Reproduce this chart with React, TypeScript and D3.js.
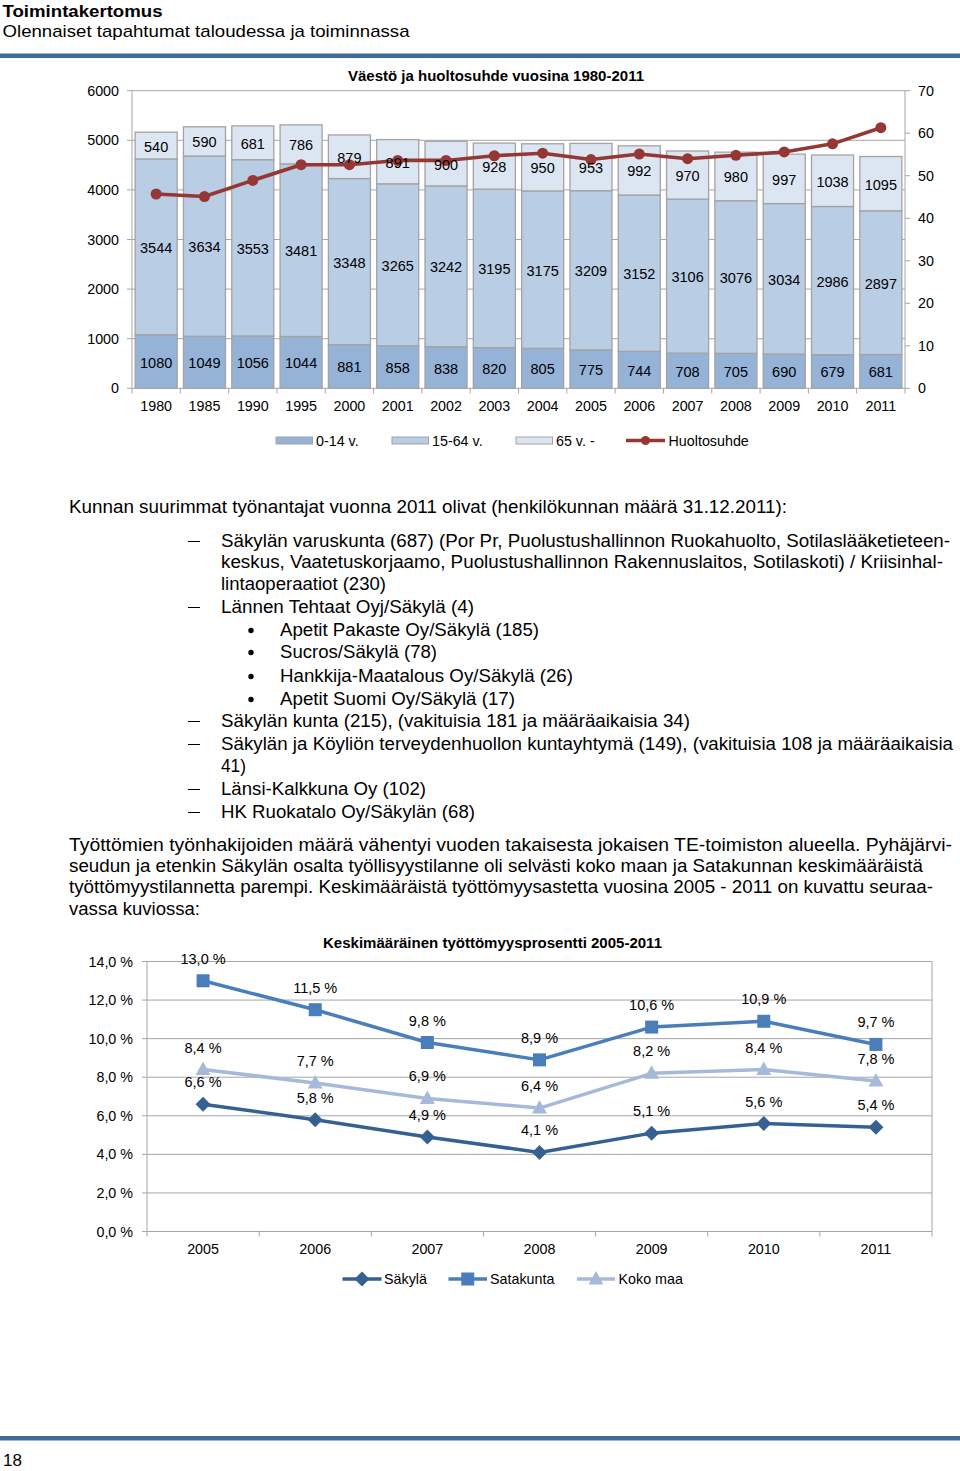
import React from 'react';
import * as d3 from 'd3';

const years = ['1980','1985','1990','1995','2000','2001','2002','2003','2004','2005','2006','2007','2008','2009','2010','2011'];
const age0_14 = [1080,1049,1056,1044,881,858,838,820,805,775,744,708,705,690,679,681];
const age15_64 = [3544,3634,3553,3481,3348,3265,3242,3195,3175,3209,3152,3106,3076,3034,2986,2897];
const age65 = [540,590,681,786,879,891,900,928,950,953,992,970,980,997,1038,1095];
const huoltosuhde = [45.7,45.1,48.9,52.6,52.6,53.6,53.6,54.7,55.3,53.8,55.1,54.0,54.8,55.6,57.5,61.3];
const leftTicks = [0,1000,2000,3000,4000,5000,6000];
const rightTicks = [0,10,20,30,40,50,60,70];

const years2 = ['2005','2006','2007','2008','2009','2010','2011'];
const sakyla = [6.6,5.8,4.9,4.1,5.1,5.6,5.4];
const satakunta = [13.0,11.5,9.8,8.9,10.6,10.9,9.7];
const kokoMaa = [8.4,7.7,6.9,6.4,8.2,8.4,7.8];
const pctTicks = [0,2,4,6,8,10,12,14];

const FONT = '"Liberation Sans", Arial, sans-serif';
const BLUE_RULE = '#41699b';

const segColors = ['#95b3d7', '#b9cde5', '#dce6f2'];
const segNames = ['0-14 v.', '15-64 v.', '65 v. -'];

const fmt = (v: number) => v.toFixed(1).replace('.', ',') + ' %';

// text lines: [text, x, baselineY, width]
const bodyLines: [string, number, number, number][] = [
  ['Kunnan suurimmat työnantajat vuonna 2011 olivat (henkilökunnan määrä 31.12.2011):', 69, 513, 718],
  ['Säkylän varuskunta (687) (Por Pr, Puolustushallinnon Ruokahuolto, Sotilaslääketieteen-', 221, 547, 729],
  ['keskus, Vaatetuskorjaamo, Puolustushallinnon Rakennuslaitos, Sotilaskoti) / Kriisinhal-', 221, 568, 722],
  ['lintaoperaatiot (230)', 221, 590, 165],
  ['Lännen Tehtaat Oyj/Säkylä (4)', 221, 613, 253],
  ['Apetit Pakaste Oy/Säkylä (185)', 280, 636, 259],
  ['Sucros/Säkylä (78)', 280, 658, 157],
  ['Hankkija-Maatalous Oy/Säkylä (26)', 280, 682, 293],
  ['Apetit Suomi Oy/Säkylä (17)', 280, 705, 235],
  ['Säkylän kunta (215), (vakituisia 181 ja määräaikaisia 34)', 221, 727, 469],
  ['Säkylän ja Köyliön terveydenhuollon kuntayhtymä (149), (vakituisia 108 ja määräaikaisia', 221, 750, 732],
  ['41)', 221, 772, 25],
  ['Länsi-Kalkkuna Oy (102)', 221, 795, 205],
  ['HK Ruokatalo Oy/Säkylän (68)', 221, 818, 254],
  ['Työttömien työnhakijoiden määrä vähentyi vuoden takaisesta jokaisen TE-toimiston alueella. Pyhäjärvi-', 69, 851, 883],
  ['seudun ja etenkin Säkylän osalta työllisyystilanne oli selvästi koko maan ja Satakunnan keskimääräistä', 69, 872, 854],
  ['työttömyystilannetta parempi. Keskimääräistä työttömyysastetta vuosina 2005 - 2011 on kuvattu seuraa-', 69, 893, 864],
  ['vassa kuviossa:', 69, 915, 131],
];
const dashLines = [547, 613, 727, 750, 795, 818];
const bulletLines = [636, 658, 682, 705];

function BarChart() {
  const x = d3.scaleBand<string>().domain(years).range([132, 905]).paddingInner(0.13).paddingOuter(0.065);
  const yL = d3.scaleLinear().domain([0, 6000]).range([388.3, 90.7]);
  const yR = d3.scaleLinear().domain([0, 70]).range([388.3, 90.7]);
  const rows = years.map((y, i) => ({ year: y, a: age0_14[i], b: age15_64[i], c: age65[i] }));
  const stack = d3.stack<any>().keys(['a', 'b', 'c'])(rows);
  const line = d3.line<number>().x((_, i) => x(years[i])! + x.bandwidth() / 2).y(d => yR(d));
  const step = x.step();
  return (
    <g>
      <text x={496} y={81} textAnchor="middle" fontWeight="bold" fontSize={14} textLength={296} lengthAdjust="spacingAndGlyphs">Väestö ja huoltosuhde vuosina 1980-2011</text>
      {leftTicks.map(t => (
        <g key={t}>
          <line x1={132} x2={905} y1={yL(t)} y2={yL(t)} stroke="#a6a6a6" strokeWidth={1} />
          <line x1={127} x2={132} y1={yL(t)} y2={yL(t)} stroke="#a6a6a6" />
          <text x={119} y={yL(t) + 5} textAnchor="end" fontSize={14.3}>{t}</text>
        </g>
      ))}
      {rightTicks.map(t => (
        <g key={t}>
          <line x1={905} x2={910} y1={yR(t)} y2={yR(t)} stroke="#a6a6a6" />
          <text x={918} y={yR(t) + 5} fontSize={14.3}>{t}</text>
        </g>
      ))}
      <line x1={132} x2={132} y1={90.7} y2={388.3} stroke="#a6a6a6" />
      <line x1={905} x2={905} y1={90.7} y2={388.3} stroke="#a6a6a6" />
      {years.map((yr, i) => (
        <line key={yr} x1={132 + step * i} x2={132 + step * i} y1={388.3} y2={393.5} stroke="#a6a6a6" />
      ))}
      <line x1={905} x2={905} y1={388.3} y2={393.5} stroke="#a6a6a6" />
      {stack.map((s, si) => (
        <g key={si}>
          {s.map((d, i) => (
            <rect key={i} x={x(years[i])} y={yL(d[1])} width={x.bandwidth()} height={yL(d[0]) - yL(d[1])}
              fill={segColors[si]} stroke="#a3a3a3" strokeWidth={1.3} />
          ))}
        </g>
      ))}
      <path d={line(huoltosuhde) || ''} fill="none" stroke="#953735" strokeWidth={3.6} strokeLinejoin="round" />
      {huoltosuhde.map((v, i) => (
        <circle key={i} cx={x(years[i])! + x.bandwidth() / 2} cy={yR(v)} r={5.5} fill="#953735" />
      ))}
      {stack.map((s, si) => (
        <g key={'l' + si}>
          {s.map((d, i) => (
            <text key={i} x={x(years[i])! + x.bandwidth() / 2} y={(yL(d[0]) + yL(d[1])) / 2 + 6}
              textAnchor="middle" fontSize={14.5}>{d[1] - d[0]}</text>
          ))}
        </g>
      ))}
      {years.map(yr => (
        <text key={yr} x={x(yr)! + x.bandwidth() / 2} y={410.5} textAnchor="middle" fontSize={14.3}>{yr}</text>
      ))}
      {/* legend */}
      {[276, 392, 516].map((lx, i) => (
        <g key={i}>
          <rect x={lx} y={437} width={36.5} height={7} fill={segColors[i]} stroke="#a3a3a3" strokeWidth={1} />
          <text x={lx + 40} y={445.5} fontSize={14.3}>{segNames[i]}</text>
        </g>
      ))}
      <line x1={626} x2={665} y1={440.5} y2={440.5} stroke="#953735" strokeWidth={3.5} />
      <circle cx={645.5} cy={440.5} r={4.5} fill="#953735" />
      <text x={668.5} y={445.5} fontSize={14.3}>Huoltosuhde</text>
    </g>
  );
}

function marker(kind: string, cx: number, cy: number, color: string, key: any) {
  if (kind === 'square') return <rect key={key} x={cx - 6.5} y={cy - 6.5} width={13} height={13} fill={color} />;
  if (kind === 'diamond') return <path key={key} d={`M${cx},${cy - 7.5}L${cx + 7.5},${cy}L${cx},${cy + 7.5}L${cx - 7.5},${cy}Z`} fill={color} />;
  return <path key={key} d={`M${cx},${cy - 8}L${cx + 7.5},${cy + 5.5}L${cx - 7.5},${cy + 5.5}Z`} fill={color} />;
}

function LineChart() {
  const x = d3.scalePoint<string>().domain(years2).range([147, 932]).padding(0.5);
  const y = d3.scaleLinear().domain([0, 14]).range([1231.5, 961.5]);
  const step = x.step();
  const series = [
    { name: 'Säkylä', data: sakyla, color: '#376092', kind: 'diamond' },
    { name: 'Satakunta', data: satakunta, color: '#4a7ebb', kind: 'square' },
    { name: 'Koko maa', data: kokoMaa, color: '#a7b9d8', kind: 'triangle' },
  ];
  const line = d3.line<number>().x((_, i) => x(years2[i])!).y(d => y(d));
  const legend = [
    { x1: 342.5, x2: 381.5, tx: 384 },
    { x1: 448.5, x2: 487, tx: 490 },
    { x1: 577, x2: 615, tx: 618.5 },
  ];
  return (
    <g>
      <text x={492.5} y={948} textAnchor="middle" fontWeight="bold" fontSize={14} textLength={339} lengthAdjust="spacingAndGlyphs">Keskimääräinen työttömyysprosentti 2005-2011</text>
      {pctTicks.map(t => (
        <g key={t}>
          <line x1={147} x2={932} y1={y(t)} y2={y(t)} stroke="#a6a6a6" />
          <line x1={142} x2={147} y1={y(t)} y2={y(t)} stroke="#a6a6a6" />
          <text x={133} y={y(t) + 5} textAnchor="end" fontSize={14.3}>{fmt(t)}</text>
        </g>
      ))}
      <line x1={147} x2={147} y1={961.5} y2={1231.5} stroke="#a6a6a6" />
      <line x1={932} x2={932} y1={961.5} y2={1231.5} stroke="#a6a6a6" />
      {years2.map((yr, i) => (
        <line key={yr} x1={147 + step * i} x2={147 + step * i} y1={1231.5} y2={1236.5} stroke="#a6a6a6" />
      ))}
      <line x1={932} x2={932} y1={1231.5} y2={1236.5} stroke="#a6a6a6" />
      {series.map(s => (
        <g key={s.name}>
          <path d={line(s.data) || ''} fill="none" stroke={s.color} strokeWidth={3.5} strokeLinejoin="round" />
          {s.data.map((v, i) => marker(s.kind, x(years2[i])!, y(v), s.color, i))}
        </g>
      ))}
      {series.map(s => (
        <g key={'l' + s.name}>
          {s.data.map((v, i) => (
            <text key={i} x={x(years2[i])!} y={y(v) - 17} textAnchor="middle" fontSize={14.5}>{fmt(v)}</text>
          ))}
        </g>
      ))}
      {years2.map(yr => (
        <text key={yr} x={x(yr)!} y={1254} textAnchor="middle" fontSize={14.3}>{yr}</text>
      ))}
      {series.map((s, i) => (
        <g key={'lg' + s.name}>
          <line x1={legend[i].x1} x2={legend[i].x2} y1={1279} y2={1279} stroke={s.color} strokeWidth={3.5} />
          {marker(s.kind, (legend[i].x1 + legend[i].x2) / 2, 1279, s.color, 'm')}
          <text x={legend[i].tx} y={1284} fontSize={14.3}>{s.name}</text>
        </g>
      ))}
    </g>
  );
}

export default function App() {
  return (
    <svg width={960} height={1471} viewBox="0 0 960 1471"
      style={{ position: 'absolute', left: 0, top: 0, background: '#fff', fontFamily: FONT }}
      fontFamily={FONT} fill="#000">
      <rect x={0} y={0} width={960} height={1471} fill="#fff" />
      <text x={2.5} y={16.7} fontWeight="bold" fontSize={17} textLength={160} lengthAdjust="spacingAndGlyphs">Toimintakertomus</text>
      <text x={2.5} y={37} fontSize={17} textLength={407} lengthAdjust="spacingAndGlyphs">Olennaiset tapahtumat taloudessa ja toiminnassa</text>
      <rect x={0} y={53.5} width={960} height={4.5} fill={BLUE_RULE} />
      <BarChart />
      {bodyLines.map(([t, lx, ly, w], i) => (
        <text key={i} x={lx} y={ly} fontSize={17.5} textLength={w} lengthAdjust="spacingAndGlyphs">{t}</text>
      ))}
      {dashLines.map((ly, i) => (
        <line key={'d' + i} x1={188} x2={200} y1={ly - 5.5} y2={ly - 5.5} stroke="#000" strokeWidth={1} />
      ))}
      {bulletLines.map((ly, i) => (
        <circle key={'b' + i} cx={251} cy={ly - 5.5} r={2.7} fill="#000" />
      ))}
      <LineChart />
      <rect x={0} y={1436} width={960} height={4.5} fill={BLUE_RULE} />
      <text x={3} y={1466} fontSize={17}>18</text>
    </svg>
  );
}
